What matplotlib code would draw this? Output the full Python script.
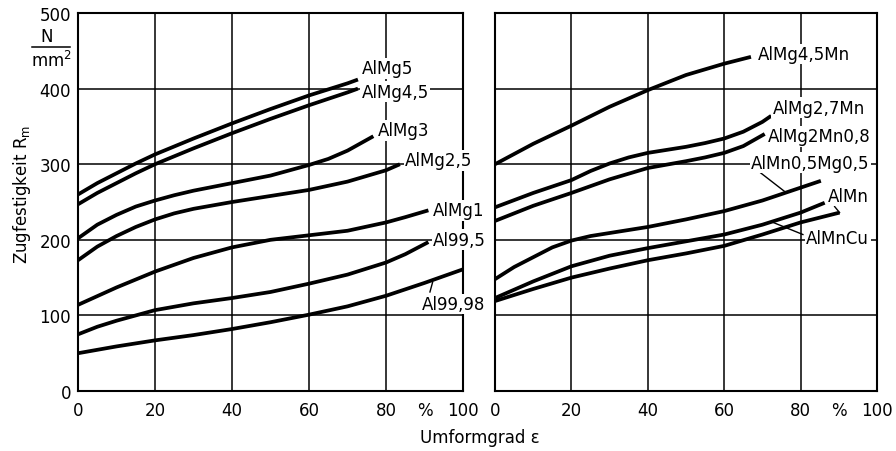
import matplotlib.pyplot as plt
from matplotlib.lines import Line2D

plt.rcParams['font.family'] = ['DejaVu Sans']
plt.rcParams['font.size'] = 12

# left panel: AlMg and pure Al alloys  (Umformgrad in %, Rm in N/mm2)
x_almg5 = [0, 5, 10, 15, 20, 30, 40, 50, 60, 70, 72.7]
rm_almg5 = [260, 275, 288, 301, 313, 334, 354, 373, 391, 407, 412]
x_almg45 = [0, 5, 10, 15, 20, 30, 40, 50, 60, 70, 72.7]
rm_almg45 = [247, 262, 275, 288, 300, 321, 341, 360, 378, 395, 400]
x_almg3 = [0, 5, 10, 15, 20, 25, 30, 40, 50, 60, 65, 70, 76.7]
rm_almg3 = [202, 220, 233, 244, 252, 259, 265, 275, 285, 299, 307, 318, 337]
x_almg25 = [0, 5, 10, 15, 20, 25, 30, 40, 50, 60, 70, 80, 83.6]
rm_almg25 = [173, 191, 205, 217, 227, 235, 241, 250, 258, 266, 277, 292, 300]
x_almg1 = [0, 10, 20, 30, 40, 50, 60, 70, 80, 85, 91]
rm_almg1 = [114, 137, 158, 176, 190, 200, 206, 212, 223, 230, 239]
x_al995 = [0, 5, 10, 15, 20, 30, 40, 50, 60, 70, 80, 85, 91]
rm_al995 = [75, 85, 93, 100, 107, 116, 123, 131, 142, 154, 170, 181, 197]
x_al9998 = [0, 10, 20, 30, 40, 50, 60, 70, 80, 90, 100]
rm_al9998 = [50, 59, 67, 74, 82, 91, 101, 112, 126, 143, 161]

# right panel: Mn containing alloys
x_almg45mn = [0, 10, 20, 30, 40, 50, 60, 67]
rm_almg45mn = [300, 327, 351, 376, 398, 418, 433, 442]
x_almg27mn = [0, 10, 20, 25, 30, 35, 40, 50, 55, 60, 65, 70, 72.3]
rm_almg27mn = [243, 262, 279, 291, 301, 309, 315, 323, 328, 334, 343, 356, 364]
x_almg2mn08 = [0, 10, 20, 30, 40, 50, 55, 60, 65, 70.6]
rm_almg2mn08 = [225, 245, 262, 280, 295, 304, 309, 315, 324, 340]
x_almn05mg05 = [0, 5, 10, 15, 20, 25, 30, 40, 50, 60, 70, 80, 85.3]
rm_almn05mg05 = [148, 164, 177, 190, 199, 205, 209, 217, 227, 238, 252, 269, 278]
x_almncu = [0, 10, 20, 30, 40, 50, 60, 70, 80, 86.3]
rm_almncu = [123, 145, 165, 179, 189, 198, 207, 220, 236, 249]
x_almn = [0, 10, 20, 30, 40, 50, 60, 70, 80, 90.2]
rm_almn = [119, 135, 150, 162, 173, 182, 192, 207, 223, 236]

xticks = [0, 20, 40, 60, 80, 100]
yticks = [0, 100, 200, 300, 400, 500]

fig = plt.figure(figsize=(8.96, 4.52), dpi=100)
ax1 = fig.add_axes([0.0871, 0.1327, 0.4297, 0.8363])
ax2 = fig.add_axes([0.5525, 0.1327, 0.4263, 0.8363])

for ax in (ax1, ax2):
    ax.set_xlim(0, 100)
    ax.set_ylim(0, 500)
    ax.set_xticks(xticks)
    ax.set_yticks(yticks)
    ax.set_xticks([90], minor=True)
    ax.set_xticklabels(['%'], minor=True)
    ax.tick_params(axis='both', which='both', length=0)
    ax.tick_params(axis='x', which='both', pad=7)
    ax.tick_params(axis='y', pad=5)
    ax.grid(True, which='major', color='k', lw=1.1)
    ax.set_axisbelow(True)
    for s in ax.spines.values():
        s.set_linewidth(1.5)

ax2.set_yticklabels([])

lw = 2.7
box = dict(boxstyle='square,pad=0.08', fc='white', ec='none')

left_curves = [
    (x_almg5, rm_almg5, 'AlMg5', 73.7, 427),
    (x_almg45, rm_almg45, 'AlMg4,5', 73.7, 396),
    (x_almg3, rm_almg3, 'AlMg3', 77.9, 345),
    (x_almg25, rm_almg25, 'AlMg2,5', 85.0, 305),
    (x_almg1, rm_almg1, 'AlMg1', 92.2, 239),
    (x_al995, rm_al995, 'Al99,5', 92.2, 200),
    (x_al9998, rm_al9998, 'Al99,98', 89.3, 115),
]
right_curves = [
    (x_almg45mn, rm_almg45mn, 'AlMg4,5Mn', 68.8, 446),
    (x_almg27mn, rm_almg27mn, 'AlMg2,7Mn', 72.7, 375),
    (x_almg2mn08, rm_almg2mn08, 'AlMg2Mn0,8', 71.4, 337),
    (x_almn05mg05, rm_almn05mg05, 'AlMn0,5Mg0,5', 67.1, 302),
    (x_almn, rm_almn, 'AlMn', 87.1, 258),
    (x_almncu, rm_almncu, 'AlMnCu', 81.5, 203),
]

for ax, curves in ((ax1, left_curves), (ax2, right_curves)):
    for x, y, name, tx, ty in curves:
        ax.plot(x, y, color='k', lw=lw, solid_capstyle='butt',
                solid_joinstyle='round', zorder=3)
        ax.text(tx, ty, name, ha='left', va='center', fontsize=12,
                bbox=box, zorder=6, clip_on=False)

# leader lines
ax1.plot([92.1, 91.4], [144, 131], color='k', lw=1, zorder=4)
ax2.plot([68.4, 75.8], [293, 264], color='k', lw=1, zorder=4)
ax2.plot([88.9, 90.2], [244, 236], color='k', lw=1, zorder=4)
ax2.plot([80.6, 72.8], [207, 223], color='k', lw=1, zorder=4)

# unit N/mm2 on the y axis
fig.text(47 / 896, 1 - 37.5 / 452, 'N', ha='center', va='center', fontsize=12)
fig.text(51.5 / 896, 1 - 61 / 452, 'mm$\\mathregular{^2}$', ha='center', va='center', fontsize=12)
fig.add_artist(Line2D([32 / 896, 70 / 896], [1 - 48 / 452, 1 - 48 / 452],
                      color='k', lw=1.1, transform=fig.transFigure))

fig.text(22 / 896, 1 - 194 / 452, 'Zugfestigkeit R$\\mathregular{_m}$',
         rotation=90, ha='center', va='center', fontsize=12)
fig.text(480 / 896, 1 - 438 / 452, 'Umformgrad ε', ha='center', va='center', fontsize=12)

fig.savefig('out.png', dpi=100)
